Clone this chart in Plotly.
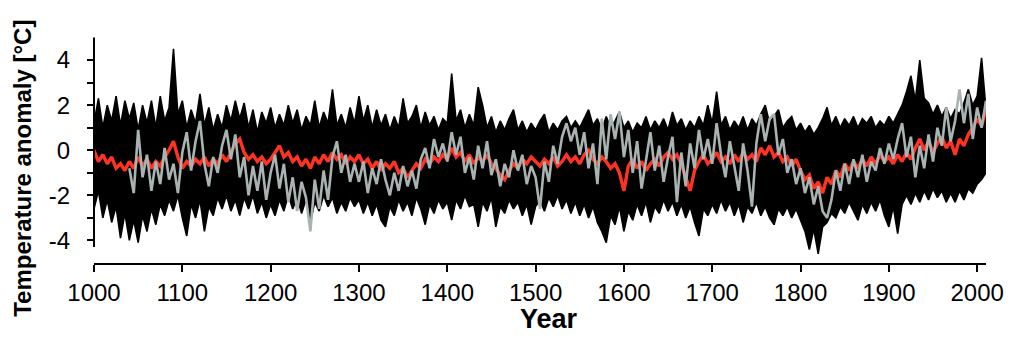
import plotly.graph_objects as go

# ---- data (5-year steps) ----
upper_1000 = [1.2, 2.3, 1.0, 2.0, 1.3, 2.4, 1.1, 2.2, 1.4, 2.1, 0.9, 2.0, 1.2, 2.2, 1.0, 2.4, 1.3, 1.9, 4.5, 1.6]
upper_1100 = [2.2, 1.0, 1.8, 1.2, 2.5, 1.1, 1.9, 0.9, 1.6, 1.0, 2.0, 1.3, 2.2, 1.4, 2.1, 1.0, 1.8, 0.8, 1.7, 1.2]
upper_1200 = [1.9, 1.0, 1.6, 1.1, 2.0, 1.2, 1.8, 0.9, 1.5, 1.1, 2.2, 1.0, 1.7, 1.2, 2.7, 1.1, 1.6, 1.0, 1.9, 1.2]
upper_1300 = [2.4, 1.3, 2.0, 1.0, 1.8, 1.1, 1.6, 0.9, 1.5, 1.0, 2.3, 1.2, 1.5, 2.0, 1.0, 1.7, 1.1, 1.5, 0.9, 1.4]
upper_1400 = [1.2, 3.4, 1.3, 1.8, 1.0, 1.6, 1.1, 2.8, 2.0, 1.0, 1.5, 0.8, 1.3, 0.9, 1.4, 1.8, 0.9, 1.3, 0.8, 1.2]
upper_1500 = [0.9, 1.3, 1.6, 0.8, 1.2, 0.9, 1.3, 1.5, 1.0, 1.3, 1.0, 1.4, 1.8, 1.1, 1.4, 0.9, 1.5, 1.0, 1.3, 1.7]
upper_1600 = [1.0, 1.3, 0.8, 1.2, 1.0, 1.5, 0.9, 1.3, 1.0, 1.4, 0.9, 1.7, 1.1, 1.4, 0.9, 1.3, 1.0, 1.5, 1.1, 2.0]
upper_1700 = [1.2, 2.6, 1.1, 1.5, 0.9, 1.3, 1.0, 1.5, 0.9, 1.4, 1.1, 1.6, 2.0, 1.2, 1.5, 1.8, 1.0, 1.3, 1.5, 0.9]
upper_1800 = [1.2, 0.8, 1.1, 0.7, 1.0, 1.4, 1.9, 1.1, 1.5, 1.0, 1.4, 1.1, 1.5, 1.0, 1.4, 1.2, 1.5, 1.0, 1.3, 1.1]
upper_1900 = [1.5, 1.2, 1.6, 2.0, 2.6, 3.3, 2.2, 4.0, 2.3, 2.1, 1.6, 2.0, 1.5, 1.9, 1.4, 1.8, 1.6, 2.1, 2.7, 2.0, 2.4, 4.1, 1.8]

lower_1000 = [-2.6, -1.8, -3.0, -2.2, -3.2, -2.5, -3.9, -2.8, -4.0, -3.1, -4.1, -2.9, -3.6, -2.6, -3.3, -2.4, -2.9, -2.2, -2.7, -2.0]
lower_1100 = [-3.0, -3.8, -2.4, -3.0, -2.2, -3.6, -2.5, -2.9, -2.1, -2.6, -2.0, -2.7, -2.2, -2.9, -2.1, -2.6, -2.0, -2.8, -2.3, -3.0]
lower_1200 = [-2.4, -2.9, -2.2, -2.7, -2.0, -2.6, -2.1, -2.8, -2.2, -3.2, -2.3, -2.7, -2.0, -2.5, -2.1, -2.8, -2.3, -2.7, -2.1, -2.5]
lower_1300 = [-2.2, -2.8, -2.3, -2.9, -2.4, -3.1, -3.4, -2.5, -2.9, -2.2, -2.7, -2.3, -2.9, -2.1, -2.6, -3.3, -2.4, -2.8, -2.2, -2.6]
lower_1400 = [-2.3, -3.1, -2.2, -2.6, -2.0, -2.5, -2.4, -3.4, -2.3, -2.7, -2.1, -3.4, -2.5, -2.8, -2.2, -2.6, -2.3, -2.9, -2.4, -3.3]
lower_1500 = [-2.5, -2.2, -2.7, -2.1, -2.5, -2.0, -2.6, -2.2, -2.8, -2.3, -2.9, -2.4, -3.0, -2.5, -3.2, -3.6, -4.1, -2.9, -3.3, -2.5]
lower_1600 = [-3.6, -2.7, -3.1, -2.4, -2.9, -2.3, -3.2, -2.5, -2.8, -2.2, -2.7, -2.3, -2.9, -2.4, -3.0, -2.5, -3.2, -3.8, -2.6, -2.9]
lower_1700 = [-2.4, -2.8, -2.2, -2.7, -2.3, -2.9, -2.4, -3.2, -2.5, -2.8, -2.3, -2.9, -2.5, -3.0, -3.3, -2.6, -2.9, -2.5, -3.0, -2.6]
lower_1800 = [-3.1, -3.6, -4.4, -3.5, -4.6, -3.4, -3.2, -2.8, -3.0, -2.5, -2.8, -2.3, -2.7, -3.1, -2.4, -2.8, -2.3, -2.7, -2.2, -2.9]
lower_1900 = [-3.4, -2.5, -3.7, -2.4, -2.0, -2.4, -1.9, -2.3, -1.8, -2.2, -1.7, -2.1, -1.8, -2.3, -1.9, -2.3, -1.8, -2.2, -1.7, -1.9, -1.5, -1.3, -1.0]

gray_1040 = [-0.8, -1.9, 0.9, -1.2, -0.2, -1.8, -0.5, -1.5, 0.1, -1.3, -0.6, -1.9]
gray_1100 = [-0.1, 0.8, -0.9, 0.4, 1.3, -0.6, -1.6, -0.3, -1.0, 0.2, 0.9, -0.4, 0.7, -1.2, -0.3, -2.0, -0.7, -1.8, -0.5, -2.2]
gray_1200 = [-1.0, -0.2, -1.7, -0.6, -2.3, -1.2, -2.7, -1.4, -2.1, -3.6, -1.3, -2.6, -0.9, -2.2, -0.3, 0.4, -1.0, -0.2, -1.4, -0.6]
gray_1300 = [-1.4, -0.5, -1.9, -0.8, -1.5, -0.4, -1.3, -2.0, -1.0, -1.8, -0.7, -1.6, -0.9, -1.7, -0.4, 0.1, -0.8, 0.5, -0.3, 0.3]
gray_1400 = [-0.5, 0.8, -0.2, 0.6, -1.0, -0.3, -1.3, 0.2, -0.8, 0.4, -1.1, -0.4, -1.6, -0.6, -1.2, 0.0, -0.9, -0.2, -1.5, -0.7]
gray_1500 = [-1.2, -2.6, -0.5, -1.4, 0.2, -0.6, 0.6, 1.2, 0.4, 1.0, -0.2, 0.8, -0.8, 0.3, -1.5, 1.4, -0.4, 1.6, 0.5, 1.7]
gray_1600 = [-0.3, 0.9, -1.0, 0.4, -1.7, -0.4, 0.8, -0.9, 0.2, -1.4, -0.3, 0.6, -2.3, -0.1, -1.6, 0.3, -0.8, 0.9, -0.4, 0.5]
gray_1700 = [-0.6, 1.2, -0.2, -1.2, 0.4, -0.7, -1.8, 0.3, -0.9, -2.5, 0.3, 1.6, 0.4, 1.4, 1.6, -0.2, 0.5, -1.0, -0.4, -1.5]
gray_1800 = [-0.8, -1.9, -1.2, -2.4, -1.6, -2.7, -3.0, -2.2, -0.9, -1.8, -0.6, -1.5, -0.4, -1.2, -0.2, -1.4, -0.5, -0.9, 0.1, -0.6]
gray_1900 = [0.3, -0.4, 0.5, 1.2, -0.3, 0.6, -1.2, 0.2, -0.8, 0.7, -0.5, 1.0, 0.2, 1.9, 0.4, 1.3, 2.7, 1.2, 2.5, 0.5, 1.9, 1.0, 2.2]

red_1000 = [0.0, -0.5, -0.2, -0.6, -0.3, -0.8, -0.6, -0.9, -0.5, -0.8, -0.3, -0.7, -0.4, -0.8, -0.5, -0.7, -0.3, 0.0, 0.4, -0.3]
red_1100 = [-0.8, -0.5, -0.7, -0.4, -0.6, -0.3, -0.7, -0.4, -0.6, -0.2, -0.5, -0.1, 0.3, 0.5, -0.1, -0.4, -0.2, -0.5, -0.3, -0.6]
red_1200 = [-0.4, -0.1, 0.2, -0.3, -0.1, -0.5, -0.3, -0.7, -0.4, -0.8, -0.3, -0.6, -0.2, -0.5, -0.1, -0.4, -0.2, -0.6, -0.3, -0.5]
red_1300 = [-0.2, -0.6, -0.4, -0.8, -0.5, -0.9, -0.6, -0.8, -0.5, -1.0, -0.8, -1.2, -0.9, -0.6, -0.8, -0.4, -0.6, -0.3, -0.5, -0.2]
red_1400 = [-0.4, 0.1, -0.3, -0.1, -0.5, -0.2, -0.6, -0.3, -0.5, -0.2, -0.6, -0.8, -1.1, -1.3, -0.9, -0.6, -0.8, -0.4, -0.6, -0.3]
red_1500 = [-0.5, -0.7, -0.4, -0.6, -0.3, -0.7, -0.5, -0.2, -0.5, -0.3, -0.6, -0.2, 0.0, -0.4, -0.6, -0.3, -0.5, -0.8, -0.6, -1.0]
red_1600 = [-1.8, -0.7, -0.4, -0.8, -0.5, -0.9, -0.6, -0.4, -0.7, -0.3, -0.1, -0.4, -0.2, -0.6, -1.2, -1.8, -0.9, -0.5, -0.2, -0.6]
red_1700 = [-0.4, -0.1, -0.5, -0.3, -0.6, -0.2, -0.5, -0.1, -0.4, -0.2, -0.5, 0.1, -0.2, 0.2, -0.3, -0.1, -0.5, -0.3, -0.7, -0.4]
red_1800 = [-0.9, -1.3, -1.1, -1.7, -1.4, -1.9, -1.2, -1.5, -0.9, -1.2, -0.6, -0.9, -0.5, -0.8, -0.4, -0.7, -0.3, -0.6, -0.2, -0.5]
red_1900 = [-0.3, -0.6, -0.2, -0.5, -0.1, -0.4, 0.1, 0.5, 0.0, 0.4, -0.1, 0.3, 0.6, 0.1, 0.4, -0.2, 0.5, 0.2, 0.7, 1.0, 1.4, 1.1, 1.8]

x_tick_labels = [str(y) for y in range(1000, 2001, 100)]
y_tick_values = [-4, -2, 0, 2, 4]
y_tick_labels = ["-4", "-2", "0", "2", "4"]

upper = (upper_1000 + upper_1100 + upper_1200 + upper_1300 + upper_1400 +
         upper_1500 + upper_1600 + upper_1700 + upper_1800 + upper_1900)
lower = (lower_1000 + lower_1100 + lower_1200 + lower_1300 + lower_1400 +
         lower_1500 + lower_1600 + lower_1700 + lower_1800 + lower_1900)
gray = (gray_1040 + gray_1100 + gray_1200 + gray_1300 + gray_1400 +
        gray_1500 + gray_1600 + gray_1700 + gray_1800 + gray_1900)
red = (red_1000 + red_1100 + red_1200 + red_1300 + red_1400 +
       red_1500 + red_1600 + red_1700 + red_1800 + red_1900)

years = [1000 + 5 * i for i in range(len(upper))]
years_lower = [1000 + 5 * i for i in range(len(lower))]
years_red = [1000 + 5 * i for i in range(len(red))]
years_gray = [1040 + 5 * i for i in range(len(gray))]

FONT = "Liberation Sans, Arial, Helvetica, sans-serif"

fig = go.Figure()
fig.add_trace(go.Scatter(x=years, y=upper, mode="lines",
                         line=dict(color="black", width=1.6), hoverinfo="skip"))
fig.add_trace(go.Scatter(x=years_lower, y=lower, mode="lines",
                         line=dict(color="black", width=1.6),
                         fill="tonexty", fillcolor="black", hoverinfo="skip"))
fig.add_trace(go.Scatter(x=years_red, y=red, mode="lines",
                         line=dict(color="#ff3322", width=3.4)))
fig.add_trace(go.Scatter(x=years_gray, y=gray, mode="lines",
                         line=dict(color="#a8b3b2", width=2.6)))

fig.update_layout(
    width=1008, height=326, autosize=False,
    margin=dict(l=86, r=19, t=25, b=71),
    paper_bgcolor="white", plot_bgcolor="white",
    showlegend=False,
    font=dict(family=FONT, color="black", size=24),
    xaxis=dict(
        range=[1000, 2010],
        tickvals=list(range(1000, 2001, 100)), ticktext=x_tick_labels,
        ticks="outside", ticklen=7, tickwidth=2, tickcolor="black",
        showline=True, linewidth=2, linecolor="black",
        showgrid=False, zeroline=False,
        tickfont=dict(family=FONT, size=24, color="black"),
    ),
    yaxis=dict(
        range=[-5, 5.2],
        tickvals=y_tick_values, ticktext=y_tick_labels,
        ticks="outside", ticklen=6, tickwidth=2, tickcolor="black",
        minor=dict(tickvals=[-3, -1, 1, 3], ticks="outside", ticklen=6,
                   tickwidth=2, tickcolor="black"),
        showline=False, showgrid=False, zeroline=False,
        tickfont=dict(family=FONT, size=24, color="black"),
        ticklabelstandoff=12,
    ),
    shapes=[dict(type="line", xref="paper", yref="paper",
                 x0=0, x1=0, y0=0.07, y1=0.98,
                 line=dict(color="black", width=2))],
    annotations=[
        dict(text="<b>Year</b>", xref="paper", yref="paper",
             x=0.5105, y=-0.245, xanchor="center", yanchor="middle",
             showarrow=False, font=dict(family=FONT, size=27, color="black")),
        dict(text="<b>Temperature anomaly [°C]</b>", xref="paper", yref="paper",
             x=-0.0795, y=0.41, xanchor="center", yanchor="middle", textangle=-90,
             showarrow=False, font=dict(family=FONT, size=24, color="black")),
    ],
)

fig.write_html("out.html")
